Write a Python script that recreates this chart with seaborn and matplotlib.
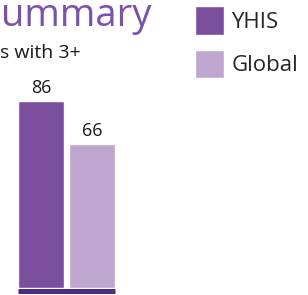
import matplotlib
matplotlib.use("Agg")
import matplotlib.pyplot as plt
import seaborn as sns
import pandas as pd

# values
groups = ["YHIS", "Global"]
values = [86, 66]
colors = ["#7B4F9E", "#BFA6CF"]

sns.set_style("white")
plt.rcParams['font.family'] = ['Open Sans', 'DejaVu Sans']

W, H = 308, 295
fig = plt.figure(figsize=(W / 100, H / 100), dpi=100)

# axes placed in pixels: bars from x=18 to 115, baseline at y=288
ax = fig.add_axes([18 / W, (H - 288) / H, 97 / W, 187 / H])
df = pd.DataFrame({"group": groups, "value": values})
sns.barplot(data=df, x="group", y="value", hue="group", palette=colors,
            width=0.9, saturation=1, legend=True, ax=ax)
ax.set_xlim(-0.45, 1.45)
ax.set_ylim(0, 86)
ax.set_xlabel("")
ax.set_ylabel("")
ax.set_xticks([])
ax.set_yticks([])
for s in ["top", "left", "right"]:
    ax.spines[s].set_visible(False)
ax.spines["bottom"].set_color("#4E2A84")
ax.spines["bottom"].set_linewidth(3.6)
ax.spines["bottom"].set_position(("outward", 1.8))
ax.spines["bottom"].set_capstyle("butt")

for c in ax.containers:
    ax.bar_label(c, padding=3, fontsize=13, color="#1a1a1a")

handles, labels = ax.get_legend_handles_labels()
ax.get_legend().remove()
fig.legend(handles, labels, loc="upper left", bbox_to_anchor=(195 / W, 1 - 6 / H),
           frameon=False, fontsize=16, handlelength=1.31, handleheight=1.6,
           handletextpad=0.33, labelspacing=0.68, borderpad=0, borderaxespad=0)

# title and subtitle, only the part visible in the reference
fig.text(0.5 / W, 1 - 26 / H, "ummary", ha="left", va="baseline",
         fontsize=27.5, color="#7B52AB")
fig.text(0 / W, 1 - 58 / H, "s with 3+", ha="left", va="baseline",
         fontsize=14, color="#1a1a1a")

fig.savefig("out.png", dpi=100)
